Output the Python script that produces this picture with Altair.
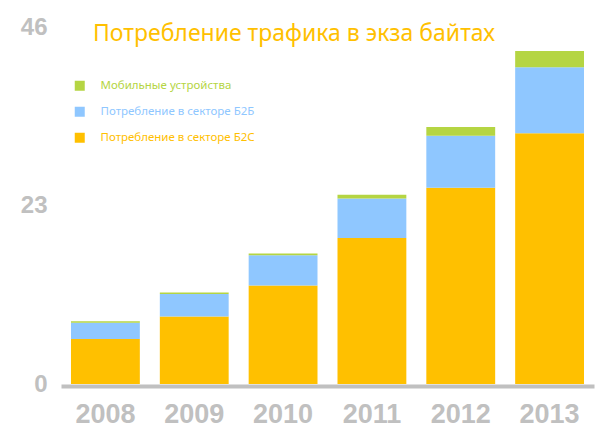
import altair as alt
import pandas as pd

# values (exabytes)
years = ['2008', '2009', '2010', '2011', '2012', '2013']
b2c = [5.8, 8.7, 12.7, 18.8, 25.3, 32.3]
b2b = [2.1, 2.9, 3.9, 5.1, 6.7, 8.5]
mobile = [0.2, 0.2, 0.2, 0.5, 1.1, 2.1]

series = ['Мобильные устройства', 'Потребление в секторе Б2Б', 'Потребление в секторе Б2С']
colors = ['#B5D543', '#8FC7FF', '#FFC000']
y_ticks = [0, 23, 46]

rows = []
for i, y in enumerate(years):
    rows.append({'year': y, 'series': series[2], 'value': b2c[i], 'ord': 0})
    rows.append({'year': y, 'series': series[1], 'value': b2b[i], 'ord': 1})
    rows.append({'year': y, 'series': series[0], 'value': mobile[i], 'ord': 2})
df = pd.DataFrame(rows)

gray = '#C0C0C0'

chart = alt.Chart(df).mark_bar().encode(
    x=alt.X('year:N', title=None,
            scale=alt.Scale(paddingInner=0.225, paddingOuter=0.1125),
            axis=alt.Axis(labelAngle=0, ticks=False, domainColor=gray, domainWidth=4,
                          offset=2, labelFont='Liberation Sans', labelFontSize=27,
                          labelFontWeight='bold', labelColor=gray, labelPadding=15)),
    y=alt.Y('value:Q', title=None, stack='zero',
            scale=alt.Scale(domain=[0, 46], nice=False),
            axis=alt.Axis(values=y_ticks, grid=False, ticks=False, domain=False,
                          labelFont='Liberation Sans', labelFontSize=24,
                          labelFontWeight='bold', labelColor=gray, labelPadding=14)),
    color=alt.Color('series:N',
                    scale=alt.Scale(domain=series, range=colors),
                    legend=alt.Legend(title=None, orient='none', legendX=13, legendY=53,
                                      symbolType='square', symbolSize=100, symbolStrokeWidth=0,
                                      labelFont='Noto Sans', labelFontSize=11.5,
                                      labelColor=alt.ExprRef("scale('color', datum.value)"),
                                      labelOffset=15, rowPadding=13, padding=0)),
    order=alt.Order('ord:Q', sort='ascending'),
).properties(
    width=533,
    height=357,
    autosize=alt.AutoSizeParams(type='none'),
    padding={'left': 53, 'top': 19, 'right': 5, 'bottom': 47},
    title=alt.TitleParams(text='Потребление трафика в экза байтах', anchor='start',
                          frame='group', font='Noto Sans', fontSize=23, fontWeight='normal',
                          color='#FFC000', dx=32, offset=0, dy=31),
).configure_view(
    strokeWidth=0
)

chart.save("out.html", embed_options={"renderer": "svg", "actions": False})
